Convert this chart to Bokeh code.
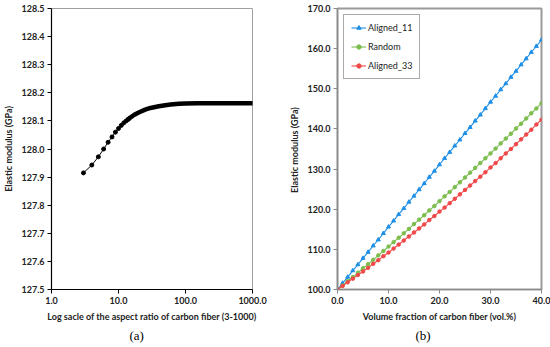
from bokeh.plotting import figure
from bokeh.layouts import row
from bokeh.models import FixedTicker, NumeralTickFormatter, Title, Legend, LegendItem, Range1d
from bokeh.embed import file_html
from bokeh.resources import INLINE

# ---- panel (a): modulus vs aspect ratio ----
aspect_ratio = [3, 4, 5, 6, 7, 8, 9, 10, 11, 12, 13, 14, 15, 17, 20, 25, 30, 40,
                50, 60, 80, 100, 150, 200, 300, 500, 700, 1000]
modulus_a = [127.915, 127.943, 127.972, 128.000, 128.024, 128.043, 128.060, 128.073,
             128.084, 128.093, 128.100, 128.106, 128.112, 128.121, 128.130, 128.140,
             128.146, 128.152, 128.156, 128.158, 128.161, 128.162, 128.163, 128.163,
             128.163, 128.163, 128.163, 128.163]
ticks_a_x = [1, 10, 100, 1000]
ticks_a_y = [127.5, 127.6, 127.7, 127.8, 127.9, 128.0, 128.1, 128.2, 128.3, 128.4, 128.5]

# ---- panel (b): modulus vs volume fraction ----
vol_fraction = list(range(0, 41))
aligned_11 = [100.0, 101.6, 103.1, 104.7, 106.2, 107.8, 109.3, 110.9, 112.4, 114.0,
              115.6, 117.1, 118.7, 120.2, 121.8, 123.3, 124.9, 126.4, 128.0, 129.5,
              131.1, 132.7, 134.2, 135.8, 137.3, 138.9, 140.4, 142.0, 143.5, 145.1,
              146.7, 148.2, 149.8, 151.3, 152.9, 154.4, 156.0, 157.5, 159.1, 160.6, 162.2]
random_ = [100.0, 101.0, 102.1, 103.1, 104.2, 105.3, 106.3, 107.4, 108.5, 109.6,
           110.7, 111.8, 112.9, 114.0, 115.1, 116.3, 117.4, 118.5, 119.7, 120.8,
           122.0, 123.2, 124.3, 125.5, 126.7, 127.9, 129.1, 130.3, 131.5, 132.7,
           133.9, 135.1, 136.4, 137.6, 138.8, 140.1, 141.3, 142.6, 143.9, 145.1, 146.4]
aligned_33 = [100.0, 100.9, 101.8, 102.7, 103.6, 104.5, 105.4, 106.4, 107.3, 108.3,
              109.2, 110.2, 111.2, 112.2, 113.2, 114.2, 115.2, 116.2, 117.3, 118.3,
              119.4, 120.4, 121.5, 122.6, 123.7, 124.8, 125.9, 127.0, 128.1, 129.2,
              130.4, 131.5, 132.7, 133.9, 135.0, 136.2, 137.4, 138.6, 139.8, 141.1, 142.3]
ticks_b_x = [0, 10, 20, 30, 40]
ticks_b_y = [100, 110, 120, 130, 140, 150, 160, 170]

FONT = "Lato"


def style(p, axis_color, outline_color, outline_width):
    p.outline_line_color = outline_color
    p.outline_line_width = outline_width
    p.xgrid.visible = False
    p.ygrid.visible = False
    p.background_fill_color = "white"
    p.border_fill_color = "white"
    for ax in (p.xaxis[0], p.yaxis[0]):
        ax.axis_line_color = axis_color
        ax.axis_line_width = 1.2
        ax.major_tick_line_color = axis_color
        ax.major_tick_out = 4
        ax.major_tick_in = 0
        ax.minor_tick_out = 0
        ax.minor_tick_in = 0
        ax.major_label_text_font = FONT
        ax.major_label_text_font_size = "9px"
        ax.major_label_text_font_style = "bold"
        ax.major_label_text_color = "#222222"
        ax.axis_label_text_font = FONT
        ax.axis_label_text_font_size = "9px"
        ax.axis_label_text_font_style = "bold"
        ax.axis_label_text_color = "#222222"
        ax.major_label_standoff = 3
        ax.axis_label_standoff = 4


def caption(p, text, offset):
    p.add_layout(Title(text=text, align="left", offset=offset, standoff=3,
                       text_font="Liberation Serif", text_font_size="13px",
                       text_font_style="normal", text_color="black"), "below")


# ---------- left ----------
p1 = figure(width=275, height=347, x_axis_type="log",
            x_range=Range1d(1, 1000), y_range=Range1d(127.5, 128.5),
            output_backend="svg", toolbar_location=None,
            min_border_left=45, min_border_right=23, min_border_top=6, min_border_bottom=57)
style(p1, "black", "#a0a0a0", 1)
p1.xaxis.ticker = FixedTicker(ticks=ticks_a_x)
p1.yaxis.ticker = FixedTicker(ticks=ticks_a_y)
p1.xaxis.formatter = NumeralTickFormatter(format="0.0")
p1.yaxis.formatter = NumeralTickFormatter(format="0.0")
p1.xaxis.axis_label = "Log sacle of the aspect ratio of carbon fiber (3-1000)"
p1.yaxis.axis_label = "Elastic modulus (GPa)"

n_dots = 12
p1.line(aspect_ratio, modulus_a, line_color="black", line_width=1)
p1.line(aspect_ratio[n_dots - 1:], modulus_a[n_dots - 1:], line_color="black",
        line_width=4.5, line_cap="round")
p1.scatter(aspect_ratio[:n_dots], modulus_a[:n_dots], marker="circle", size=4,
           fill_color="black", line_color="black")
caption(p1, "(a)", 78)

# ---------- right ----------
p2 = figure(width=275, height=347,
            x_range=Range1d(0, 40), y_range=Range1d(100, 170),
            output_backend="svg", toolbar_location=None,
            min_border_left=62, min_border_right=9, min_border_top=8, min_border_bottom=58)
style(p2, "#8a8a8a", "#9a9a9a", 2)
p2.xaxis.ticker = FixedTicker(ticks=ticks_b_x)
p2.yaxis.ticker = FixedTicker(ticks=ticks_b_y)
p2.xaxis.formatter = NumeralTickFormatter(format="0.0")
p2.yaxis.formatter = NumeralTickFormatter(format="0.0")
p2.xaxis.axis_label = "Volume fraction of carbon fiber (vol.%)"
p2.yaxis.axis_label = "Elastic  modulus (GPa)"

series = [("Aligned_11", aligned_11, "#1e8fe6", "triangle", 4),
          ("Random", random_, "#7cbd4e", "circle", 3.5),
          ("Aligned_33", aligned_33, "#f04848", "circle", 3.5)]
items = []
for name, vals, col, mk, sz in series:
    l = p2.line(vol_fraction, vals, line_color=col, line_width=1.1)
    s = p2.scatter(vol_fraction, vals, marker=mk, size=sz, fill_color=col, line_color=col)
    items.append(LegendItem(label=name, renderers=[l, s]))

leg = Legend(items=items, location="top_left", margin=6, padding=7, spacing=8,
             glyph_width=15, glyph_height=11, label_standoff=2,
             label_text_font=FONT, label_text_font_size="9px",
             label_text_color="#222222", label_height=11,
             border_line_color="#555555", border_line_width=1.2,
             background_fill_color="white", background_fill_alpha=1)
p2.add_layout(leg)
caption(p2, "(b)", 78)

layout = row(p1, p2)
open("out.html", "w").write(file_html(layout, INLINE))
